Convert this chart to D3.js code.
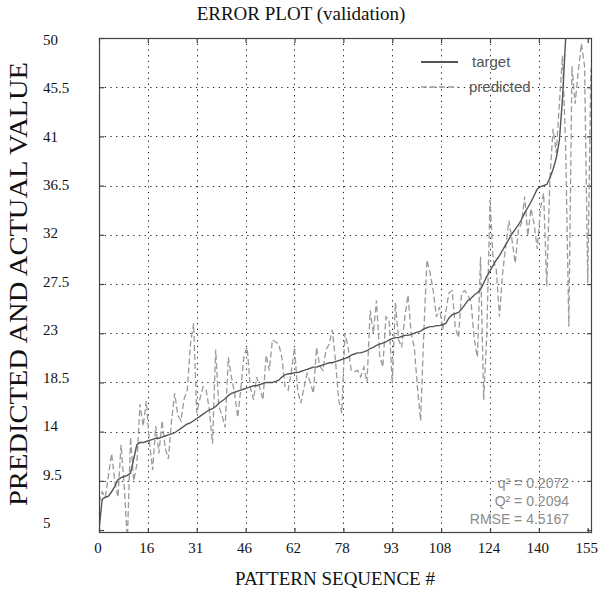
<!DOCTYPE html>
<html>
<head>
<meta charset="utf-8">
<script src="https://cdn.jsdelivr.net/npm/d3@7"></script>
<style>
  body { margin: 0; background: #fff; }
  svg { display: block; }
</style>
</head>
<body>
<div id="chart"></div>
<script>
// data (index = pattern sequence #)

const target = [
  5.0, 7.8, 8.0, 8.1, 8.5, 9.0, 9.6, 9.8, 9.9, 10.0,
  10.2, 11.5, 12.8, 13.0, 13.0, 13.1, 13.2, 13.3, 13.4, 13.4,
  13.5, 13.6, 13.7, 13.8, 13.9, 14.1, 14.3, 14.5, 14.7, 14.8,
  15.0, 15.2, 15.4, 15.6, 15.8, 16.0, 16.1, 16.3, 16.6, 16.8,
  17.0, 17.3, 17.5, 17.6, 17.7, 17.8, 17.9, 18.0, 18.1, 18.2,
  18.2, 18.3, 18.4, 18.5, 18.5, 18.5, 18.6, 18.7, 19.0, 19.2,
  19.3, 19.3, 19.4, 19.4, 19.5, 19.6, 19.7, 19.8, 19.9, 19.9,
  20.0, 20.1, 20.2, 20.3, 20.3, 20.4, 20.5, 20.6, 20.7, 20.8,
  21.0, 21.1, 21.2, 21.2, 21.3, 21.4, 21.6, 21.7, 21.9, 22.0,
  22.1, 22.2, 22.4, 22.5, 22.6, 22.6, 22.7, 22.8, 22.8, 22.9,
  23.0, 23.1, 23.2, 23.4, 23.5, 23.6, 23.6, 23.7, 23.7, 23.8,
  23.9, 24.4, 24.7, 24.8, 24.9, 25.2, 25.6, 26.0, 26.2, 26.5,
  26.7, 27.0, 27.6, 28.2, 28.7, 29.2, 29.7, 30.1, 30.6, 31.1,
  31.6, 32.1, 32.5, 32.9, 33.4, 34.0, 34.5, 35.0, 35.6, 36.2,
  36.4, 36.5, 36.6, 37.2, 38.0, 39.0, 40.6, 44.5, 50.0, 50.0,
  50.0, 50.0, 50.0, 50.0, 50.0, 50.0, 50.0
];

const predicted = [
  7.5, 8.5, 8.0, 10.0, 12.0, 9.5, 8.0, 12.8, 9.0, 4.0,
  13.5, 9.5, 11.0, 16.5, 14.5, 16.8, 13.0, 10.5, 14.5, 12.0,
  15.0, 12.5, 11.5, 15.0, 17.5, 15.5, 15.0, 17.0, 17.8, 22.0,
  23.9, 15.7, 17.0, 18.1, 17.8, 16.0, 12.9, 21.5, 16.3, 15.5,
  14.4, 20.8, 19.0, 17.5, 15.3, 18.0, 21.0, 21.7, 18.0, 16.9,
  19.0, 18.0, 16.9, 21.0, 19.6, 22.4, 22.2, 22.0, 20.8, 18.1,
  17.8, 19.5, 21.7, 17.8, 16.6, 18.0, 19.3, 18.5, 17.5, 21.7,
  20.0, 19.6, 21.5, 22.0, 23.3, 20.5, 16.9, 15.7, 23.0, 21.7,
  19.6, 19.5, 19.6, 19.0, 19.9, 18.5, 25.1, 23.0, 26.0, 21.0,
  19.9, 24.5, 24.2, 18.4, 25.8, 22.4, 21.7, 24.5, 26.5, 23.0,
  21.7, 18.0, 15.0, 23.0, 29.7, 28.5, 26.9, 24.5, 25.4, 23.3,
  25.0, 26.7, 26.9, 23.5, 22.6, 26.7, 26.9, 26.5, 25.8, 22.5,
  20.8, 30.0, 16.9, 23.0, 35.2, 29.7, 28.8, 24.5, 28.5, 31.0,
  33.3, 31.5, 29.4, 32.4, 33.1, 35.5, 31.9, 34.4, 33.0, 30.7,
  34.4, 35.8, 27.3, 37.1, 41.7, 39.5, 44.0, 48.4, 40.0, 23.6,
  47.4, 44.0, 47.0, 49.5, 47.4, 27.6, 47.2
];

const xTickVals = [0, 15.5, 31, 46.5, 62, 77.5, 93, 108.5, 124, 139.5, 155];
const xTickLabels = ["0", "16", "31", "46", "62", "78", "93", "108", "124", "140", "155"];
const yTickVals = [5, 9.5, 14, 18.5, 23, 27.5, 32, 36.5, 41, 45.5, 50];
const yTickLabels = ["5", "9.5", "14", "18.5", "23", "27.5", "32", "36.5", "41", "45.5", "50"];

const legendNames = ["target", "predicted"];
const statLines = ["q\u00b2 = 0.2072", "Q\u00b2 = 0.2094", "RMSE = 4.5167"];

// config

const width = 601;
const height = 590;
const plot = { left: 99, right: 592, top: 38, bottom: 533 };
const serif = "'Liberation Serif', 'DejaVu Serif', serif";
const sans = "'Liberation Sans', Arial, sans-serif";

const svg = d3.select("#chart")
  .append("svg")
  .attr("width", width)
  .attr("height", height);

// scales

const x = d3.scaleLinear()
  .domain([0, 156.35])
  .range([plot.left, plot.right]);

const y = d3.scaleLinear()
  .domain([4.73, 50])
  .range([plot.bottom, plot.top]);

// tick labels in the reference are spread a little tighter than the ticks
const yLabelPos = d3.scaleLinear()
  .domain([5, 50])
  .range([523, 40]);

svg.append("clipPath")
  .attr("id", "plotClip")
  .append("rect")
  .attr("x", plot.left)
  .attr("y", plot.top)
  .attr("width", plot.right - plot.left)
  .attr("height", plot.bottom - plot.top);

// grid

const grid = svg.append("g")
  .attr("stroke", "#222")
  .attr("stroke-width", 1)
  .attr("stroke-dasharray", "1.3,4.4");

grid.selectAll("line.vgrid")
  .data(xTickVals.slice(1, -1))
  .enter()
  .append("line")
  .attr("class", "vgrid")
  .attr("x1", d => Math.round(x(d)) + 0.5)
  .attr("x2", d => Math.round(x(d)) + 0.5)
  .attr("y1", plot.top)
  .attr("y2", plot.bottom);

grid.selectAll("line.hgrid")
  .data(yTickVals.slice(1, -1))
  .enter()
  .append("line")
  .attr("class", "hgrid")
  .attr("x1", plot.left)
  .attr("x2", plot.right)
  .attr("y1", d => Math.round(y(d)) + 0.5)
  .attr("y2", d => Math.round(y(d)) + 0.5);

// ticks on all four sides, pointing inwards

const axisStyle = g => {
  g.select(".domain").remove();
  g.selectAll(".tick line").attr("stroke", "#444").attr("stroke-width", 1.2);
  g.selectAll(".tick text").remove();
};

svg.append("g")
  .attr("transform", `translate(0,${plot.bottom})`)
  .call(d3.axisBottom(x).tickValues(xTickVals).tickSizeInner(-5).tickSizeOuter(0))
  .call(axisStyle);

svg.append("g")
  .attr("transform", `translate(0,${plot.top})`)
  .call(d3.axisTop(x).tickValues(xTickVals).tickSizeInner(-5).tickSizeOuter(0))
  .call(axisStyle);

svg.append("g")
  .attr("transform", `translate(${plot.left},0)`)
  .call(d3.axisLeft(y).tickValues(yTickVals).tickSizeInner(-5).tickSizeOuter(0))
  .call(axisStyle);

svg.append("g")
  .attr("transform", `translate(${plot.right},0)`)
  .call(d3.axisRight(y).tickValues(yTickVals).tickSizeInner(-5).tickSizeOuter(0))
  .call(axisStyle);

// lines

const line = d3.line()
  .x((d, i) => x(i))
  .y(d => y(d));

const lines = svg.append("g").attr("clip-path", "url(#plotClip)");

lines.append("path")
  .datum(predicted)
  .attr("fill", "none")
  .attr("stroke", "#9a9a9a")
  .attr("stroke-width", 1.3)
  .attr("stroke-dasharray", "6,3")
  .attr("d", line);

lines.append("path")
  .datum(target)
  .attr("fill", "none")
  .attr("stroke", "#555")
  .attr("stroke-width", 1.4)
  .attr("d", line);

// frame

svg.append("rect")
  .attr("x", plot.left + 0.5)
  .attr("y", plot.top + 0.5)
  .attr("width", plot.right - plot.left - 1)
  .attr("height", plot.bottom - plot.top - 1)
  .attr("fill", "none")
  .attr("stroke", "#444")
  .attr("stroke-width", 1.2);

// tick labels

svg.selectAll("text.xlab")
  .data(xTickVals)
  .enter()
  .append("text")
  .attr("class", "xlab")
  .attr("x", d => x(d) - 1)
  .attr("y", 553)
  .attr("text-anchor", "middle")
  .attr("font-family", serif)
  .attr("font-size", 15)
  .attr("fill", "#111")
  .text((d, i) => xTickLabels[i]);

svg.selectAll("text.ylab")
  .data(yTickVals)
  .enter()
  .append("text")
  .attr("class", "ylab")
  .attr("x", 43)
  .attr("y", d => yLabelPos(d) + 5)
  .attr("font-family", serif)
  .attr("font-size", 15)
  .attr("fill", "#111")
  .text((d, i) => yTickLabels[i]);

// titles

svg.append("text")
  .attr("x", 301)
  .attr("y", 20)
  .attr("text-anchor", "middle")
  .attr("font-family", serif)
  .attr("font-size", 19)
  .attr("fill", "#111")
  .text("ERROR PLOT (validation)");

svg.append("text")
  .attr("x", 335)
  .attr("y", 585)
  .attr("text-anchor", "middle")
  .attr("font-family", serif)
  .attr("font-size", 19)
  .attr("fill", "#111")
  .text("PATTERN SEQUENCE #");

svg.append("text")
  .attr("transform", "translate(27,284) rotate(-90)")
  .attr("text-anchor", "middle")
  .attr("font-family", serif)
  .attr("font-size", 26)
  .attr("fill", "#111")
  .attr("textLength", 444)
  .attr("lengthAdjust", "spacingAndGlyphs")
  .text("PREDICTED AND ACTUAL VALUE");

// legend

const legend = svg.append("g");
const legendY = [62, 87];

legend.selectAll("line")
  .data(legendNames)
  .enter()
  .append("line")
  .attr("x1", 421)
  .attr("x2", 458)
  .attr("y1", (d, i) => legendY[i])
  .attr("y2", (d, i) => legendY[i])
  .attr("stroke", (d, i) => i === 0 ? "#555" : "#9a9a9a")
  .attr("stroke-width", (d, i) => i === 0 ? 2 : 1.5)
  .attr("stroke-dasharray", (d, i) => i === 0 ? null : "6,3");

legend.selectAll("text")
  .data(legendNames)
  .enter()
  .append("text")
  .attr("x", (d, i) => i === 0 ? 472 : 469)
  .attr("y", (d, i) => legendY[i] + 5)
  .attr("font-family", sans)
  .attr("font-size", 15)
  .attr("fill", "#555")
  .text(d => d);

// fit stats

svg.selectAll("text.stat")
  .data(statLines)
  .enter()
  .append("text")
  .attr("class", "stat")
  .attr("x", 569)
  .attr("y", (d, i) => 488 + i * 18)
  .attr("text-anchor", "end")
  .attr("font-family", sans)
  .attr("font-size", 14)
  .attr("fill", "#8c8c8c")
  .text(d => d);
</script>
</body>
</html>
